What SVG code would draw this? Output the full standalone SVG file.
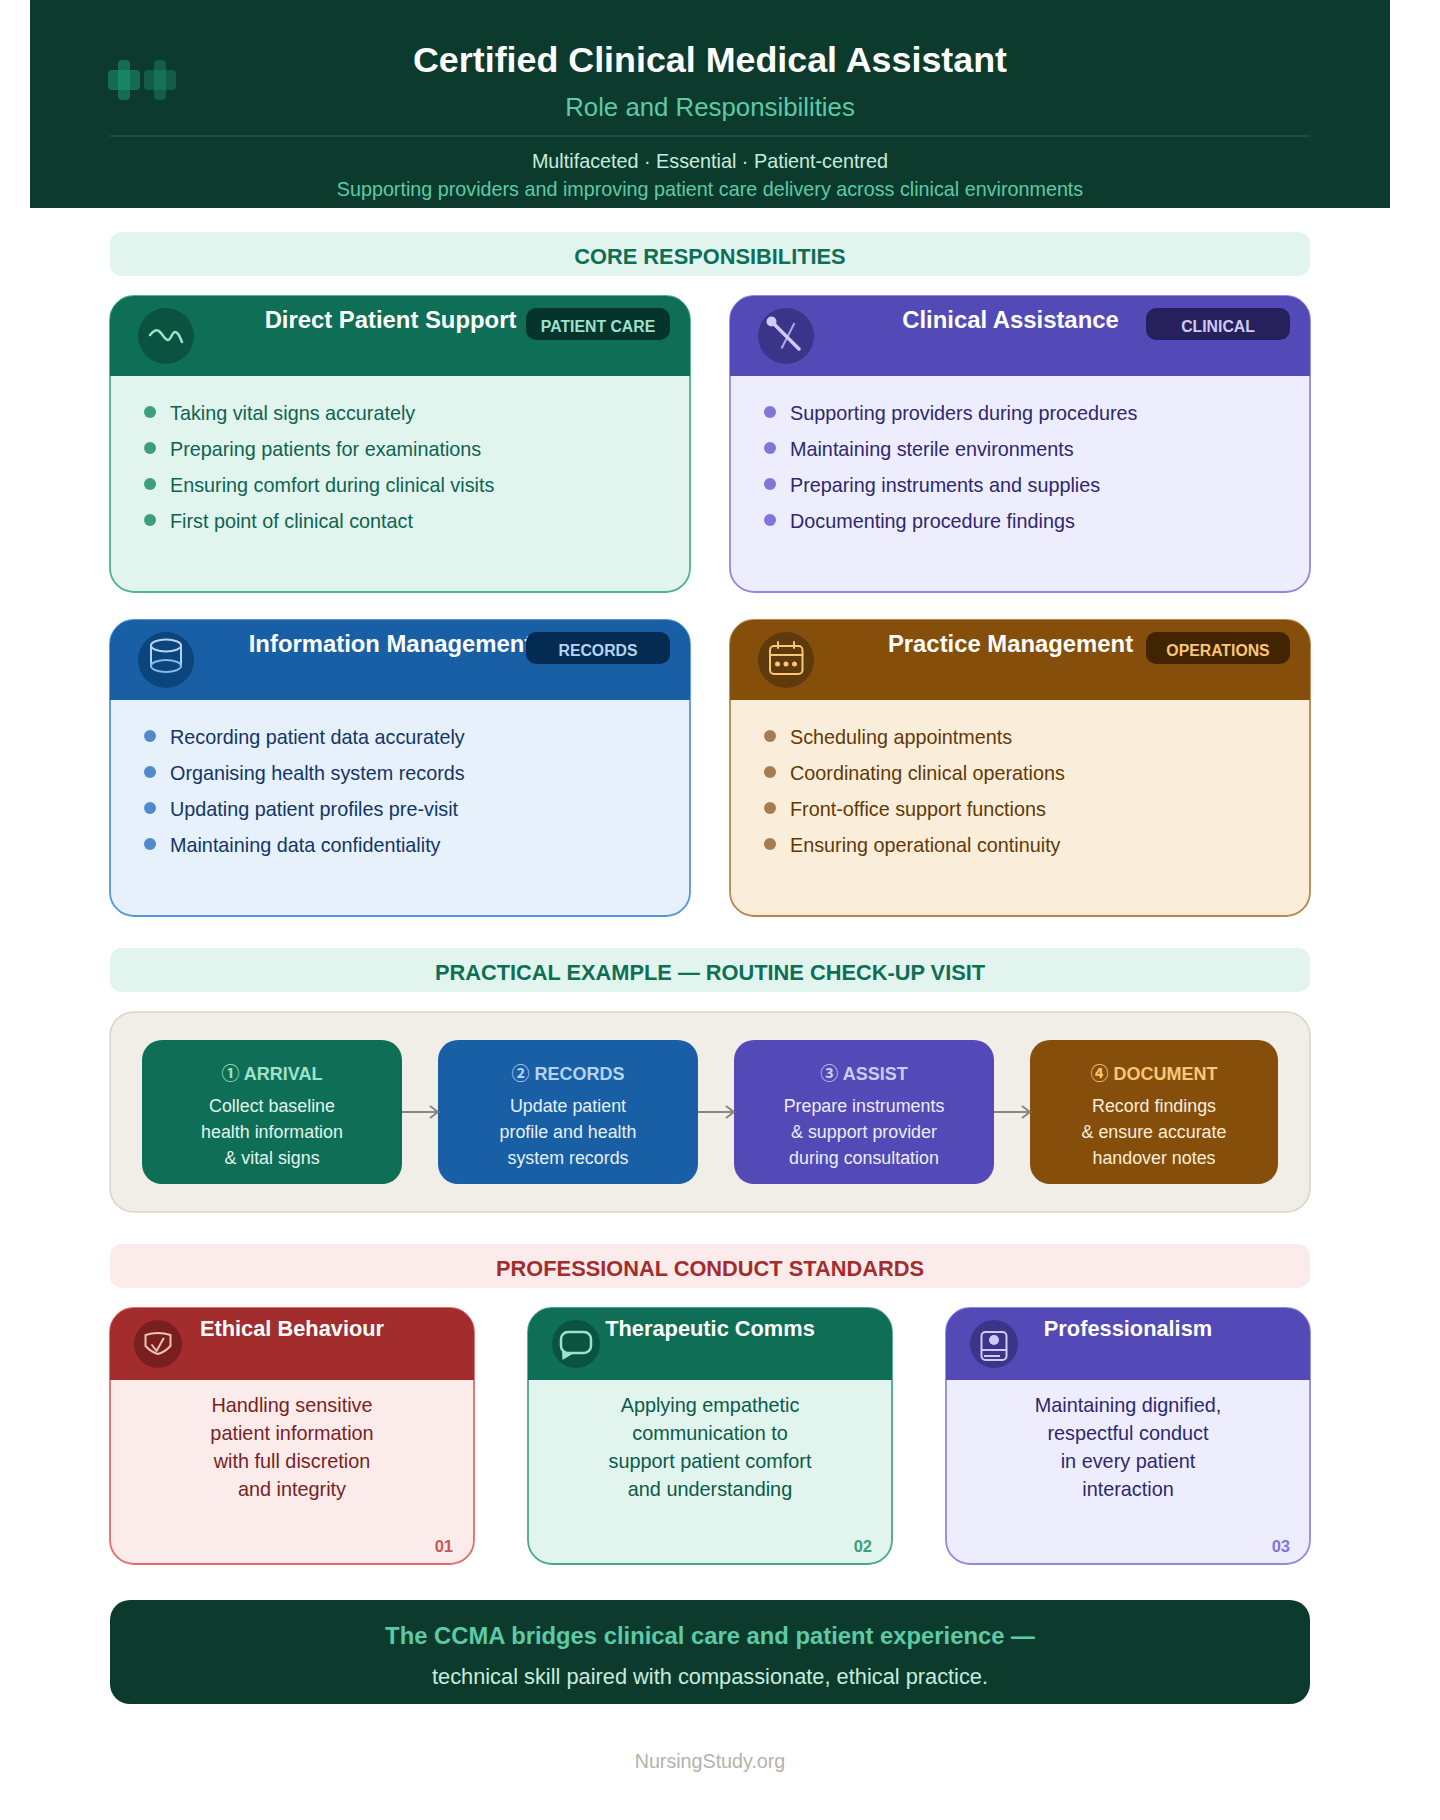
<svg xmlns="http://www.w3.org/2000/svg" width="1440" height="1820" viewBox="0 0 1440 1820">
<style>
text{font-family:"Liberation Sans",Arial,"Noto Sans CJK SC",sans-serif}
.m{text-anchor:middle}
.b{font-weight:700}
.t{font-size:23.850px;font-weight:700;fill:#fff;text-anchor:middle}
.p{font-size:21.800px;font-weight:700;fill:#fff;text-anchor:middle}
.bd{font-size:15.800px;font-weight:700;text-anchor:middle}
.sec{font-size:21.800px;font-weight:700;text-anchor:middle}
.li{font-size:19.800px}
.st{font-size:18px;font-weight:700;text-anchor:middle}
.sd{font-size:17.850px;text-anchor:middle}
.cb{font-size:19.850px;text-anchor:middle}
.n{font-size:16.500px;font-weight:700;text-anchor:end}
.ic{fill:none;stroke-linecap:round;stroke-linejoin:round}
.arrow{stroke:#888780;stroke-width:2;fill:none}
</style>
<defs>
<marker id="ah" markerWidth="12" markerHeight="14" refX="10" refY="7" orient="auto" markerUnits="userSpaceOnUse"><path d="M2 1L10 7L2 13" fill="none" stroke="#888780" stroke-width="2"/></marker>
<clipPath id="cc1"><rect x="110" y="296" width="580" height="296" rx="24"/></clipPath>
<clipPath id="cc2"><rect x="730" y="296" width="580" height="296" rx="24"/></clipPath>
<clipPath id="cc3"><rect x="110" y="620" width="580" height="296" rx="24"/></clipPath>
<clipPath id="cc4"><rect x="730" y="620" width="580" height="296" rx="24"/></clipPath>
<clipPath id="pc1"><rect x="110" y="1308" width="364" height="256" rx="24"/></clipPath>
<clipPath id="pc2"><rect x="528" y="1308" width="364" height="256" rx="24"/></clipPath>
<clipPath id="pc3"><rect x="946" y="1308" width="364" height="256" rx="24"/></clipPath>
</defs>

<g id="header">
<rect x="30" y="0" width="1360" height="208" fill="#0C3B2D"/>
<g fill="#1D9E75"><rect x="118" y="60" width="12" height="40" rx="4" opacity="0.5"/><rect x="108" y="70" width="32" height="20" rx="4" opacity="0.5"/></g>
<g fill="#1D9E75"><rect x="154" y="60" width="12" height="40" rx="4" opacity="0.35"/><rect x="144" y="70" width="32" height="20" rx="4" opacity="0.35"/></g>
<text x="710" y="71.500" class="m b" font-size="35.850" fill="#fff">Certified Clinical Medical Assistant</text>
<text x="710" y="116" class="m" font-size="25.800" fill="#5DCAA5">Role and Responsibilities</text>
<line x1="110" y1="136" x2="1310" y2="136" stroke="#1A5A46" stroke-width="1.500"/>
<text x="710" y="168" class="m" font-size="19.800" fill="#C8EBDD">Multifaceted · Essential · Patient-centred</text>
<text x="710" y="196" class="m" font-size="19.750" fill="#5DCAA5">Supporting providers and improving patient care delivery across clinical environments</text>
</g>

<g id="section-core"><rect x="110" y="232" width="1200" height="44" rx="12" fill="#E1F5EE"/><text x="710" y="264" class="sec" fill="#0F6E56">CORE RESPONSIBILITIES</text></g>

<g id="card-direct-patient-support">
<rect x="110" y="296" width="580" height="296" rx="24" fill="#E1F5EE" stroke="#4FB290" stroke-width="1.800"/>
<rect x="110" y="296" width="580" height="80" fill="#0F6E56" clip-path="url(#cc1)"/>
<circle cx="166" cy="336" r="28" fill="#0B5341"/>
<path class="ic" d="M150 335C154 330 157 329 160 332C163 335 165 340 168 340C171 340 172 332 175 332C178 332 180 337 182 342" stroke="#9FE1CB" stroke-width="2.500"/>
<text x="390.500" y="328" class="t">Direct Patient Support</text>
<rect x="526" y="308" width="144" height="32" rx="10" fill="#04342C"/>
<text x="598" y="331.500" class="bd" fill="#9FE1CB">PATIENT CARE</text>
<g fill="#3C9E7C"><circle cx="150" cy="412" r="6"/><circle cx="150" cy="448" r="6"/><circle cx="150" cy="484" r="6"/><circle cx="150" cy="520" r="6"/></g>
<g fill="#0E6350"><text x="170" y="420" class="li">Taking vital signs accurately</text><text x="170" y="456" class="li">Preparing patients for examinations</text><text x="170" y="492" class="li">Ensuring comfort during clinical visits</text><text x="170" y="528" class="li">First point of clinical contact</text></g>
</g>

<g id="card-clinical-assistance">
<rect x="730" y="296" width="580" height="296" rx="24" fill="#EEEDFE" stroke="#9088E0" stroke-width="1.800"/>
<rect x="730" y="296" width="580" height="80" fill="#534AB7" clip-path="url(#cc2)"/>
<circle cx="786" cy="336" r="28" fill="#3C3489"/>
<line x1="794.500" y1="323" x2="781.500" y2="348.500" stroke="#AFA9EC" stroke-width="2"/>
<circle cx="771.500" cy="321.500" r="5" fill="#CECBF6"/>
<line x1="771.500" y1="321.500" x2="799" y2="349" stroke="#CECBF6" stroke-width="3.500" stroke-linecap="round"/>
<text x="1010.500" y="328" class="t">Clinical Assistance</text>
<rect x="1146" y="308" width="144" height="32" rx="10" fill="#26215C"/>
<text x="1218" y="331.500" class="bd" fill="#CECBF6">CLINICAL</text>
<g fill="#8076D8"><circle cx="770" cy="412" r="6"/><circle cx="770" cy="448" r="6"/><circle cx="770" cy="484" r="6"/><circle cx="770" cy="520" r="6"/></g>
<g fill="#2D2870"><text x="790" y="420" class="li">Supporting providers during procedures</text><text x="790" y="456" class="li">Maintaining sterile environments</text><text x="790" y="492" class="li">Preparing instruments and supplies</text><text x="790" y="528" class="li">Documenting procedure findings</text></g>
</g>

<g id="card-information-management">
<rect x="110" y="620" width="580" height="296" rx="24" fill="#E6F1FB" stroke="#5596DC" stroke-width="1.800"/>
<rect x="110" y="620" width="580" height="80" fill="#185FA5" clip-path="url(#cc3)"/>
<circle cx="166" cy="660" r="28" fill="#0C447C"/>
<g class="ic" stroke-width="2"><path d="M151 645V666M181 645V666" stroke="#B5D4F4"/><ellipse cx="166" cy="645.500" rx="15" ry="6" stroke="#B5D4F4"/><ellipse cx="166" cy="666" rx="15" ry="6" stroke="#85B7EB"/></g>
<text x="390.500" y="652" class="t">Information Management</text>
<rect x="526" y="632" width="144" height="32" rx="10" fill="#042C53"/>
<text x="598" y="655.500" class="bd" fill="#B5D4F4">RECORDS</text>
<g fill="#4F8BCB"><circle cx="150" cy="736" r="6"/><circle cx="150" cy="772" r="6"/><circle cx="150" cy="808" r="6"/><circle cx="150" cy="844" r="6"/></g>
<g fill="#133566"><text x="170" y="744" class="li">Recording patient data accurately</text><text x="170" y="780" class="li">Organising health system records</text><text x="170" y="816" class="li">Updating patient profiles pre-visit</text><text x="170" y="852" class="li">Maintaining data confidentiality</text></g>
</g>

<g id="card-practice-management">
<rect x="730" y="620" width="580" height="296" rx="24" fill="#FAEEDA" stroke="#B9874A" stroke-width="1.800"/>
<rect x="730" y="620" width="580" height="80" fill="#854F0B" clip-path="url(#cc4)"/>
<circle cx="786" cy="660" r="28" fill="#5E3A0C"/>
<g class="ic" stroke="#FAC775" stroke-width="2"><rect x="770" y="646" width="32.500" height="28" rx="4"/><path d="M770 655H802.500M778 642V648M794 642V648"/></g>
<g fill="#FAC775"><circle cx="777.500" cy="664" r="2.500"/><circle cx="786" cy="664" r="2.500"/><circle cx="794.500" cy="664" r="2.500"/></g>
<text x="1010.500" y="652" class="t">Practice Management</text>
<rect x="1146" y="632" width="144" height="32" rx="10" fill="#412402"/>
<text x="1218" y="655.500" class="bd" fill="#FAC775">OPERATIONS</text>
<g fill="#A67B50"><circle cx="770" cy="736" r="6"/><circle cx="770" cy="772" r="6"/><circle cx="770" cy="808" r="6"/><circle cx="770" cy="844" r="6"/></g>
<g fill="#633806"><text x="790" y="744" class="li">Scheduling appointments</text><text x="790" y="780" class="li">Coordinating clinical operations</text><text x="790" y="816" class="li">Front-office support functions</text><text x="790" y="852" class="li">Ensuring operational continuity</text></g>
</g>

<g id="section-example"><rect x="110" y="948" width="1200" height="44" rx="12" fill="#E1F5EE"/><text x="710" y="980" class="sec" fill="#0F6E56">PRACTICAL EXAMPLE — ROUTINE CHECK-UP VISIT</text></g>

<g id="flow-panel"><rect x="110" y="1012" width="1200" height="200" rx="24" fill="#F1EEE8" stroke="#D8D3CA" stroke-width="1.500"/></g>

<g id="step-arrival"><rect x="142" y="1040" width="260" height="144" rx="20" fill="#0F6E56"/>
<text x="272" y="1080" class="st" fill="#9FE1CB">① ARRIVAL</text>
<text x="272" y="1111.500" class="sd" fill="#E1F5EE">Collect baseline</text><text x="272" y="1137.500" class="sd" fill="#E1F5EE">health information</text><text x="272" y="1163.500" class="sd" fill="#E1F5EE">&amp; vital signs</text></g>
<g id="step-records"><rect x="438" y="1040" width="260" height="144" rx="20" fill="#185FA5"/>
<text x="568" y="1080" class="st" fill="#B5D4F4">② RECORDS</text>
<text x="568" y="1111.500" class="sd" fill="#E6F1FB">Update patient</text><text x="568" y="1137.500" class="sd" fill="#E6F1FB">profile and health</text><text x="568" y="1163.500" class="sd" fill="#E6F1FB">system records</text></g>
<g id="step-assist"><rect x="734" y="1040" width="260" height="144" rx="20" fill="#534AB7"/>
<text x="864" y="1080" class="st" fill="#CECBF6">③ ASSIST</text>
<text x="864" y="1111.500" class="sd" fill="#EEEDFE">Prepare instruments</text><text x="864" y="1137.500" class="sd" fill="#EEEDFE">&amp; support provider</text><text x="864" y="1163.500" class="sd" fill="#EEEDFE">during consultation</text></g>
<g id="step-document"><rect x="1030" y="1040" width="248" height="144" rx="20" fill="#854F0B"/>
<text x="1154" y="1080" class="st" fill="#FAC775">④ DOCUMENT</text>
<text x="1154" y="1111.500" class="sd" fill="#FAEEDA">Record findings</text><text x="1154" y="1137.500" class="sd" fill="#FAEEDA">&amp; ensure accurate</text><text x="1154" y="1163.500" class="sd" fill="#FAEEDA">handover notes</text></g>

<g id="connectors">
<line class="arrow" x1="402" y1="1112" x2="438" y2="1112" marker-end="url(#ah)"/>
<line class="arrow" x1="698" y1="1112" x2="734" y2="1112" marker-end="url(#ah)"/>
<line class="arrow" x1="994" y1="1112" x2="1030" y2="1112" marker-end="url(#ah)"/>
</g>

<g id="section-conduct"><rect x="110" y="1244" width="1200" height="44" rx="12" fill="#FCEBEB"/><text x="710" y="1276" class="sec" fill="#A32D2D">PROFESSIONAL CONDUCT STANDARDS</text></g>

<g id="card-ethical">
<rect x="110" y="1308" width="364" height="256" rx="24" fill="#FCEBEB" stroke="#E06C6C" stroke-width="1.800"/>
<rect x="110" y="1308" width="364" height="72" fill="#A32D2D" clip-path="url(#pc1)"/>
<circle cx="158" cy="1344" r="24" fill="#791F1F"/>
<path class="ic" d="M145.500 1335Q158 1331 170.500 1335V1346Q165 1352 158 1354Q151 1352 145.500 1346Z" stroke="#F0C4B4" stroke-width="2"/>
<path class="ic" d="M152 1345L156.500 1351L163.500 1338.500" stroke="#F0C4B4" stroke-width="2"/>
<text x="292" y="1335.500" class="p">Ethical Behaviour</text>
<g fill="#791F1F"><text x="292" y="1412" class="cb">Handling sensitive</text><text x="292" y="1440" class="cb">patient information</text><text x="292" y="1468" class="cb">with full discretion</text><text x="292" y="1496" class="cb">and integrity</text></g>
<text x="453" y="1552" class="n" fill="#C9575A">01</text>
</g>

<g id="card-therapeutic">
<rect x="528" y="1308" width="364" height="256" rx="24" fill="#E1F5EE" stroke="#4AA888" stroke-width="1.800"/>
<rect x="528" y="1308" width="364" height="72" fill="#0F6E56" clip-path="url(#pc2)"/>
<circle cx="576" cy="1344" r="24" fill="#0B5341"/>
<path d="M562 1350L562.500 1360L574 1353Z" fill="#9FE1CB"/>
<rect x="561" y="1332" width="30" height="21" rx="7" fill="#0B5341" stroke="#9FE1CB" stroke-width="2.500"/>
<text x="710" y="1335.500" class="p">Therapeutic Comms</text>
<g fill="#0B5A48"><text x="710" y="1412" class="cb">Applying empathetic</text><text x="710" y="1440" class="cb">communication to</text><text x="710" y="1468" class="cb">support patient comfort</text><text x="710" y="1496" class="cb">and understanding</text></g>
<text x="872" y="1552" class="n" fill="#3C9E7C">02</text>
</g>

<g id="card-professionalism">
<rect x="946" y="1308" width="364" height="256" rx="24" fill="#EEEDFE" stroke="#9088E0" stroke-width="1.800"/>
<rect x="946" y="1308" width="364" height="72" fill="#534AB7" clip-path="url(#pc3)"/>
<circle cx="994" cy="1344" r="24" fill="#3C3489"/>
<rect x="981.500" y="1332" width="25" height="28" rx="4" fill="none" stroke="#CECBF6" stroke-width="2"/>
<circle cx="994" cy="1340" r="5" fill="#CECBF6"/>
<path d="M982 1350H1006M984 1356H1000" stroke="#CECBF6" stroke-width="2" fill="none"/>
<text x="1128" y="1335.500" class="p">Professionalism</text>
<g fill="#2D2870"><text x="1128" y="1412" class="cb">Maintaining dignified,</text><text x="1128" y="1440" class="cb">respectful conduct</text><text x="1128" y="1468" class="cb">in every patient</text><text x="1128" y="1496" class="cb">interaction</text></g>
<text x="1290" y="1552" class="n" fill="#8076D8">03</text>
</g>

<g id="banner">
<rect x="110" y="1600" width="1200" height="104" rx="20" fill="#0C3B2D"/>
<text x="710" y="1644" class="m b" font-size="23.800" fill="#5DCAA5">The CCMA bridges clinical care and patient experience —</text>
<text x="710" y="1684" class="m" font-size="21.800" fill="#C8EBDD">technical skill paired with compassionate, ethical practice.</text>
</g>
<text id="footer" x="710" y="1768" class="m" font-size="19.700" fill="#B4B2A9">NursingStudy.org</text>
</svg>
